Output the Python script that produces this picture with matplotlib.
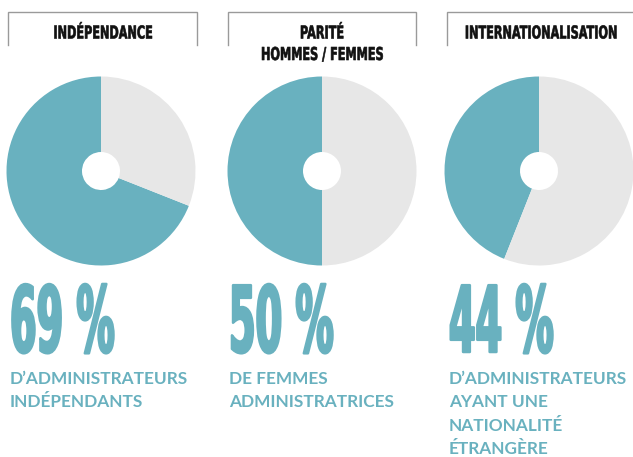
import matplotlib
matplotlib.use("Agg")
import matplotlib.pyplot as plt
from matplotlib.patheffects import AbstractPathEffect
from matplotlib.transforms import Affine2D

# ---- data ----
titles = ["INDÉPENDANCE", "PARITÉ\nHOMMES / FEMMES", "INTERNATIONALISATION"]
shares = [69, 50, 44]
big_labels = ["69 %", "50 %", "44 %"]
captions = [
    ["D\u2019ADMINISTRATEURS", "INDÉPENDANTS"],
    ["DE FEMMES", "ADMINISTRATRICES"],
    ["D\u2019ADMINISTRATEURS", "AYANT UNE", "NATIONALITÉ", "ÉTRANGÈRE"],
]

TEAL = "#69B1BF"
GREY = "#E7E7E7"
W, H = 633, 457


class Stretch(AbstractPathEffect):
    """Scale glyphs about the baseline (per line), optionally embolden."""
    def __init__(self, sx=1.0, sy=1.0, anchor="left", bold_pt=0.0):
        super().__init__()
        self.sx = sx
        self.sy = sy
        self.anchor = anchor
        self.bold_pt = bold_pt

    def draw_path(self, renderer, gc, tpath, affine, rgbFace=None):
        ext = tpath.get_extents()
        cx = (ext.x0 + ext.x1) / 2 if self.anchor == "center" else ext.x0
        t = (Affine2D().translate(-cx, 0).scale(self.sx, self.sy)
             .translate(cx, 0) + affine)
        if self.bold_pt > 0 and rgbFace is not None:
            gc0 = renderer.new_gc()
            gc0.copy_properties(gc)
            gc0.set_linewidth(self.bold_pt)
            gc0.set_foreground(rgbFace)
            gc0.set_joinstyle("round")
            renderer.draw_path(gc0, tpath, t, rgbFace)
            gc0.restore()
        else:
            renderer.draw_path(gc, tpath, t, rgbFace)


def Y(y):
    return H - y


fig = plt.figure(figsize=(W / 100, H / 100), dpi=100)
ax = fig.add_axes([0, 0, 1, 1])

centers = [101, 322, 539]
box_x = [(8, 197), (228, 416), (447, 640)]
title_cx = [103, 322, 541]
left_x = [9, 228, 448]

for i in range(3):
    cx = centers[i]
    ax.pie([shares[i], 100 - shares[i]], colors=[TEAL, GREY], startangle=90,
           counterclock=True, radius=94.5, center=(cx, Y(171)),
           wedgeprops=dict(width=75.5, linewidth=0))

    # title bracket box
    x0, x1 = box_x[i]
    ax.plot([x0, x0, x1, x1], [Y(45), Y(12), Y(12), Y(45)], color="#9a9a9a",
            lw=1.0, solid_joinstyle="miter")

    # title text
    lines = titles[i].split("\n")
    for k, ln in enumerate(lines):
        ax.text(title_cx[i], Y(38.5 + 21.5 * k), ln, ha="center", va="baseline",
                fontsize=8.1, fontweight="bold", family="DejaVu Sans",
                color="#111111",
                path_effects=[Stretch(1.0, 1.58, "center", bold_pt=0.45)])

    # big number
    ax.text(left_x[i] + 1, Y(352), big_labels[i], ha="left", va="baseline",
            fontsize=27.5, fontweight="bold", family="DejaVu Sans",
            color=TEAL, path_effects=[Stretch(1.0, 2.40, "left", bold_pt=1.8)])

    # caption
    for k, ln in enumerate(captions[i]):
        ax.text(left_x[i] + 1, Y(384 + 23.3 * k), ln, ha="left", va="baseline",
                fontsize=12.4, fontweight="bold", family="Lato", color=TEAL)

ax.set_xlim(0, W)
ax.set_ylim(0, H)
ax.set_aspect("auto")
ax.set_axis_off()
fig.savefig("out.png", dpi=100)
